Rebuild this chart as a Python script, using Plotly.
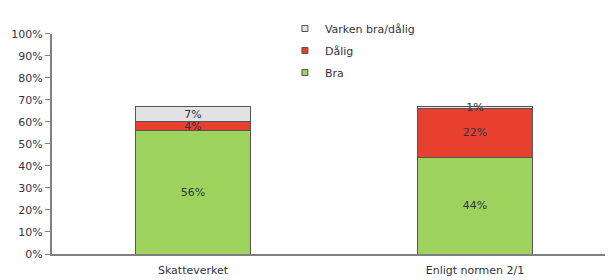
import plotly.graph_objects as go

categories = ["Skatteverket", "Enligt normen 2/1"]
bra = [56, 44]
dalig = [4, 22]
varken = [7, 1]
tick_vals = [0, 10, 20, 30, 40, 50, 60, 70, 80, 90, 100]
tick_text = [f"{v}%" for v in tick_vals]

series = [
    ("Bra", bra, "#9dd35c"),
    ("Dålig", dalig, "#e8402f"),
    ("Varken bra/dålig", varken, "#e2e2e2"),
]

FONT = "DejaVu Sans, Liberation Sans, Arial"

fig = go.Figure()
for name, vals, col in series:
    fig.add_trace(go.Bar(
        x=categories, y=vals, name=name, legendgroup=name, showlegend=False,
        marker=dict(color=col, line=dict(color="#555555", width=1)),
        text=[f"{v}%" for v in vals], textposition="inside",
        insidetextanchor="middle", constraintext="none",
        textfont=dict(family=FONT, size=11, color="#333340"),
        width=0.405,
    ))

# legend entries (small square markers), top to bottom as in the reference
for name, vals, col in reversed(series):
    fig.add_trace(go.Scatter(
        x=[None], y=[None], mode="markers", name=name, legendgroup=name,
        marker=dict(symbol="square", size=6, color=col,
                    line=dict(color="#555555", width=1)),
    ))

fig.update_layout(
    width=613, height=280,
    barmode="stack",
    margin=dict(l=44, r=5, t=0, b=34),
    plot_bgcolor="white", paper_bgcolor="white",
    font=dict(family=FONT, size=11, color="#333340"),
    showlegend=True,
    legend=dict(
        x=0.413, y=1.0, xanchor="left", yanchor="top",
        traceorder="grouped", tracegroupgap=3,
        font=dict(size=11, color="#333340"),
        itemwidth=30, bgcolor="rgba(0,0,0,0)",
    ),
    xaxis=dict(showline=True, linecolor="#808080", linewidth=2,
               ticks="", tickfont=dict(size=11), range=[-0.5, 1.5],
               ticklabelstandoff=5),
    yaxis=dict(range=[0, 100], tickvals=tick_vals, ticktext=tick_text,
               domain=[0, 0.917],
               showgrid=False, showline=True, linecolor="#808080", linewidth=2,
               ticks="outside", ticklen=5, tickcolor="#808080",
               tickfont=dict(size=11), zeroline=False),
)

fig.write_html("out.html")
